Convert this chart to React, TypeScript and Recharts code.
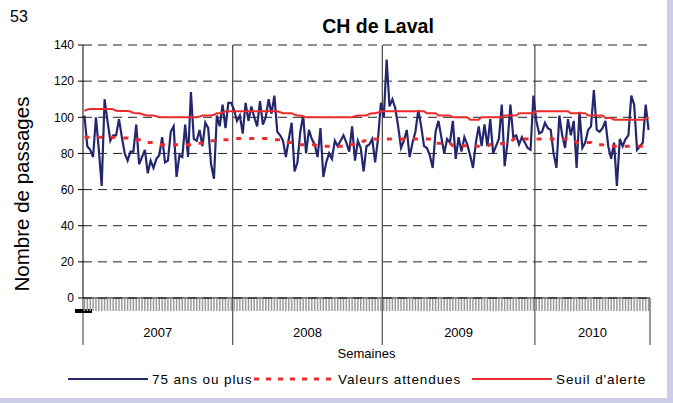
import React from 'react';
import { LineChart, Line, XAxis, YAxis, CartesianGrid, ReferenceLine } from 'recharts';

const years = ['2007', '2008', '2009', '2010'];
const weeksPerYear = [52, 52, 53, 40];
const yTicks = [0, 20, 40, 60, 80, 100, 120, 140];

const visits2007 = [101, 84, 82, 78, 100, 82, 62, 110, 98, 87, 90, 90, 99, 89, 80, 76, 81, 81, 96, 74, 78, 82, 69, 76, 72, 77, 79, 89, 75, 76, 92, 95, 67, 79, 78, 96, 78, 114, 88, 87, 93, 84, 97, 94, 74, 66, 101, 95, 107, 94, 108, 108];
const visits2008 = [104, 98, 101, 91, 108, 98, 106, 100, 95, 109, 96, 100, 110, 102, 112, 92, 90, 87, 78, 88, 97, 70, 75, 92, 101, 80, 93, 88, 85, 78, 94, 67, 75, 80, 77, 87, 84, 87, 90, 86, 81, 95, 76, 87, 83, 70, 84, 85, 88, 75, 88, 108];
const visits2009 = [100, 132, 106, 110, 105, 95, 83, 87, 93, 78, 86, 92, 104, 95, 84, 83, 79, 72, 92, 98, 89, 80, 88, 86, 98, 77, 89, 81, 89, 85, 79, 72, 86, 95, 84, 96, 84, 99, 80, 84, 88, 107, 73, 86, 107, 89, 90, 85, 89, 86, 83, 82, 112];
const visits2010 = [98, 91, 92, 97, 94, 93, 80, 72, 101, 90, 83, 99, 90, 98, 72, 103, 83, 86, 93, 95, 115, 93, 92, 94, 98, 84, 77, 86, 62, 88, 84, 88, 90, 112, 107, 82, 84, 86, 107, 93];

const expected2007 = [89, 89, 89, 89, 89, 89, 89, 89, 89, 89, 89, 88.5, 88.5, 88.5, 88.5, 88.5, 87.6, 87.6, 87.6, 87.6, 87.6, 86, 86, 86, 86, 86, 84.8, 84.8, 84.8, 84.8, 84.8, 84.8, 84.8, 84.8, 84.8, 84.8, 84.8, 84.8, 85.7, 85.7, 85.7, 85.7, 85.7, 87, 87, 87, 87, 87, 87.6, 87.6, 87.6, 87.6];
const expected2008 = [88.3, 88.3, 88.3, 88.3, 88.3, 88.3, 88.3, 88.3, 88.3, 88.3, 88.3, 88.3, 88.3, 87.6, 87.6, 87.6, 87.6, 86, 86, 86, 86, 84.8, 84.8, 84.8, 84.8, 84.8, 84.8, 84.8, 84.8, 84, 84, 84, 84, 84, 84, 84, 84, 84, 84, 84, 85, 85, 85, 85, 85, 87, 87, 87, 87, 88, 88, 88];
const expected2009 = [88, 88, 88, 88, 88, 88, 88, 88, 88, 88, 88, 88, 88, 88, 88, 88, 88, 88, 85.7, 85.7, 85.7, 85.7, 85.7, 85.7, 84.3, 84.3, 84.3, 84.3, 84.3, 84.3, 84.3, 84.3, 84, 84, 84, 84, 84, 85, 85, 85, 85, 85.5, 85.5, 85.5, 85.5, 88, 88, 88, 88, 88, 88, 88, 88];
const expected2010 = [88, 88, 88, 88, 88, 88, 88, 88, 88, 88, 88, 88, 88, 88, 86, 86, 86, 86, 86, 86, 84.8, 84.8, 84.8, 84.8, 84, 84, 84, 84, 84, 84, 84, 84, 84, 84, 84, 84, 84, 84, 84, 84];

const threshold2007 = [103.5, 104.3, 104.6, 104.6, 104.6, 104.6, 104.6, 104.6, 104.6, 104.6, 104.4, 103.6, 103.5, 103.5, 103.5, 103.5, 103.2, 102.4, 102.2, 102.2, 101.8, 101.2, 101, 101, 101, 100.6, 100, 100, 100, 100, 100, 100, 100, 100, 100, 100, 100, 100, 100, 100, 100.4, 101, 101, 101, 101, 101.4, 102.2, 102.2, 102.6, 103.3, 103.3, 103.3];
const threshold2008 = [103.3, 103.3, 103.3, 103.3, 103.3, 103.3, 103.3, 103.3, 103.3, 103.3, 103.3, 103.3, 103.3, 103.3, 103.3, 103.3, 102.8, 102.2, 102.2, 102.2, 102.2, 101.5, 101, 101, 100.5, 100, 100, 100, 100, 100, 100, 100, 100, 100, 100, 100, 100, 100, 100, 100, 100, 100, 100.6, 101, 101, 101, 101, 101.8, 102.2, 102.2, 102.6, 103.3];
const threshold2009 = [103.3, 103.3, 103.3, 103.3, 103.3, 103.3, 103.3, 103.3, 103.3, 103.3, 103.3, 103.3, 103.3, 103.3, 103.3, 102.2, 102.2, 102.2, 102.2, 101, 101, 101, 101, 101, 100, 100, 100, 100, 100, 100, 98.7, 98.7, 98.7, 98.7, 100, 100, 100, 100, 100, 100, 100, 100, 101, 101, 101, 101, 101, 102.2, 102.2, 102.2, 102.2, 102.2, 102.2];
const threshold2010 = [103.3, 103.3, 103.3, 103.3, 103.3, 103.3, 103.3, 103.3, 103.3, 103.3, 103.3, 103.3, 102.2, 102.2, 102.2, 102.2, 102.2, 102.2, 101, 101, 101, 101, 101, 101, 99.6, 99.6, 99.6, 98.7, 98.7, 98.7, 98.7, 98.7, 98.7, 98.7, 98.7, 98.7, 98.7, 98.7, 99.3, 100];

const visits = [...visits2007, ...visits2008, ...visits2009, ...visits2010];
const expected = [...expected2007, ...expected2008, ...expected2009, ...expected2010];
const threshold = [...threshold2007, ...threshold2008, ...threshold2009, ...threshold2010];

const data = visits.map((v, i) => ({ w: i + 0.5, visits: v, expected: expected[i], threshold: threshold[i] }));

const bounds: number[] = [0];
weeksPerYear.forEach((n) => bounds.push(bounds[bounds.length - 1] + n));
const totalWeeks = bounds[bounds.length - 1];
const centers = years.map((_, k) => (bounds[k] + bounds[k + 1]) / 2);
const combTicks = visits.map((_, i) => i + 0.5);
const xTicks = Array.from(new Set([...bounds, ...centers, ...combTicks])).sort((a, b) => a - b);

const FONT = '"Liberation Sans", Arial, sans-serif';
const BLUE = '#25276e';
const RED = '#ee2b2b';

function WeekTick(props: any) {
  const { x, y, payload } = props;
  const v = payload.value;
  const parts: any[] = [];
  if (Math.abs((v % 1) - 0.5) < 1e-6) {
    parts.push(<line key="c" x1={x} x2={x} y1={y + 1} y2={y + 13} stroke="#9a9a9a" strokeWidth={1.5} />);
  }
  const bi = bounds.indexOf(v);
  if (bi >= 0) {
    parts.push(<line key="b" x1={x} x2={x} y1={y} y2={y + 47} stroke="#555" strokeWidth={1.2} />);
    if (bi === 0) parts.push(<rect key="m" x={x - 8} y={y + 11} width={17} height={4} fill="#000" />);
  }
  const ci = centers.indexOf(v);
  if (ci >= 0) {
    parts.push(
      <text key="t" x={x} y={y + 39} textAnchor="middle" fontSize={13} fill="#000" fontFamily={FONT}>
        {years[ci]}
      </text>
    );
  }
  return <g>{parts}</g>;
}

function LegendItem({ left, label, color, dashed, width }: any) {
  return (
    <div style={{ position: 'absolute', left, top: 0, display: 'flex', alignItems: 'center', height: 20 }}>
      <svg width={width} height={6} style={{ display: 'block' }}>
        <line x1={0} x2={width} y1={3} y2={3} stroke={color} strokeWidth={dashed ? 3 : 2} strokeDasharray={dashed ? '5 7' : undefined} />
      </svg>
      <span style={{ marginLeft: 4, fontSize: 13.5, letterSpacing: 0.9, color: '#000', whiteSpace: 'nowrap' }}>{label}</span>
    </div>
  );
}

export default function App() {
  return (
    <div style={{ position: 'absolute', left: 0, top: 0, width: 673, height: 403, background: '#cdcde9', fontFamily: FONT, overflow: 'hidden' }}>
      <div style={{ position: 'absolute', left: 0, top: 0, width: 667, height: 398, background: '#fff' }} />
      <div style={{ position: 'absolute', left: 0, top: 0 }}>
        <LineChart width={673} height={403} data={data} margin={{ top: 45, right: 23, bottom: 0, left: 0 }} style={{ fontFamily: FONT }}>
          <CartesianGrid vertical={false} stroke="#222" strokeDasharray="9 6" />
          <XAxis
            dataKey="w"
            type="number"
            domain={[0, totalWeeks]}
            ticks={xTicks}
            interval={0}
            tick={<WeekTick />}
            tickLine={false}
            tickSize={0}
            tickMargin={0}
            axisLine={{ stroke: '#000' }}
            height={105}
            label={{ value: 'Semaines', position: 'insideTop', offset: 51, fontSize: 13, fill: '#000' }}
          />
          <YAxis
            type="number"
            domain={[0, 140]}
            ticks={yTicks}
            interval={0}
            width={83}
            tickSize={5}
            tickMargin={4}
            axisLine={{ stroke: '#000' }}
            tickLine={{ stroke: '#000' }}
            tick={{ fontSize: 12, fill: '#000' }}
          />
          {bounds.slice(1, -1).map((b) => (
            <ReferenceLine key={b} x={b} stroke="#444" strokeWidth={1.2} />
          ))}
          <Line type="linear" dataKey="visits" stroke={BLUE} strokeWidth={2.2} dot={false} isAnimationActive={false} />
          <Line type="linear" dataKey="expected" stroke={RED} strokeWidth={3} strokeDasharray="5 8" dot={false} isAnimationActive={false} />
          <Line type="linear" dataKey="threshold" stroke={RED} strokeWidth={2} dot={false} isAnimationActive={false} />
        </LineChart>
      </div>
      <div style={{ position: 'absolute', left: 10, top: 8, fontSize: 16, color: '#000' }}>53</div>
      <div style={{ position: 'absolute', left: 278, width: 200, top: 15, textAlign: 'center', fontSize: 19.5, fontWeight: 'bold', color: '#000' }}>CH de Laval</div>
      <div
        style={{
          position: 'absolute',
          left: 22,
          top: 194,
          transform: 'translate(-50%, -50%) rotate(-90deg)',
          fontSize: 20.5,
          whiteSpace: 'nowrap',
          color: '#000',
        }}
      >
        Nombre de passages
      </div>
      <div style={{ position: 'absolute', left: 0, top: 369, width: 673, height: 20 }}>
        <LegendItem left={68} width={80} color={BLUE} label="75 ans ou plus" />
        <LegendItem left={254} width={80} color={RED} dashed label="Valeurs attendues" />
        <LegendItem left={472} width={80} color={RED} label="Seuil d'alerte" />
      </div>
    </div>
  );
}
